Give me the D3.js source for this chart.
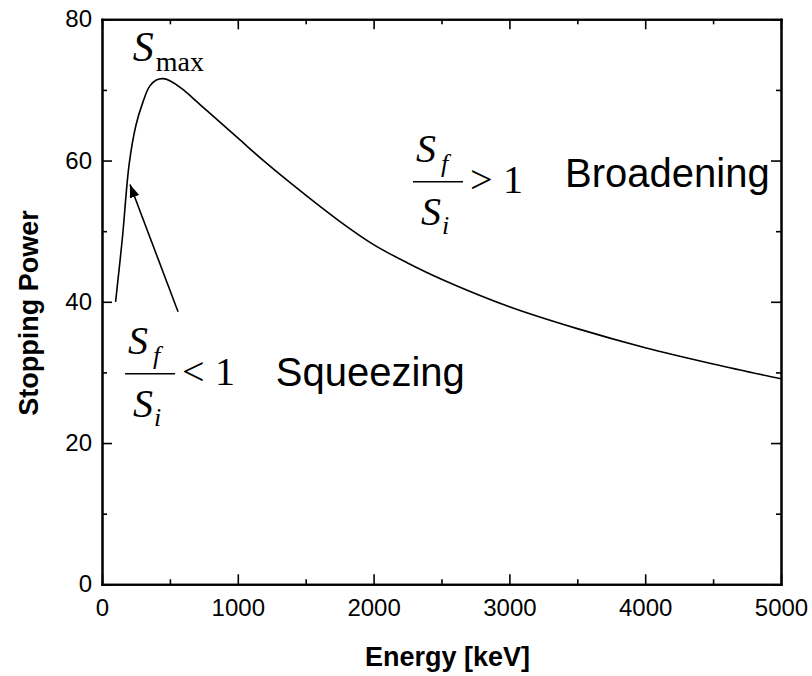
<!DOCTYPE html>
<html>
<head>
<meta charset="utf-8">
<script src="https://cdn.jsdelivr.net/npm/d3@7"></script>
<style>
  body { margin: 0; background: #fff; }
  svg { display: block; }
  .tick text { font-family: "Liberation Sans", Arial, sans-serif; font-size: 24px; fill: #000; }
  .title { font-family: "Liberation Sans", Arial, sans-serif; font-weight: bold; font-size: 27px; }
  .word { font-family: "Liberation Sans", Arial, sans-serif; font-size: 40px; }
  .math { font-family: "Liberation Serif", "Times New Roman", serif; }
</style>
</head>
<body>
<div id="chart"></div>
<script>
// stopping power curve
var energy   = [100, 150, 200, 250, 300, 350, 400, 450, 500, 600, 700, 800, 1000, 1200, 1500, 1750, 2000, 2250, 2500, 3000, 3500, 4000, 4500, 5000];
var stopping = [40, 49, 59.5, 65, 68.2, 70.5, 71.4, 71.6, 71.3, 70, 68.3, 66.6, 63.2, 59.8, 55.1, 51.4, 48.1, 45.5, 43.2, 39.3, 36.2, 33.5, 31.2, 29.1];

var xTicks = [0, 1000, 2000, 3000, 4000, 5000];
var yTicks = [0, 20, 40, 60, 80];

// arrow from "Sf/Si < 1" up to the rising edge (data units)
var arrowFrom = [560, 38.6];
var arrowTo = [206, 56.6];

var W = 812, H = 676;
var margin = { top: 19.3, right: 31, bottom: 91.7, left: 102 },
    width = W - margin.left - margin.right,
    height = H - margin.top - margin.bottom;

var svg = d3.select("#chart").append("svg")
    .attr("width", W)
    .attr("height", H);

var g = svg.append("g")
    .attr("transform", "translate(" + margin.left + "," + margin.top + ")");

var x = d3.scaleLinear().domain([0, 5000]).range([0, width]);
var y = d3.scaleLinear().domain([0, 80]).range([height, 0]);

var minorX = d3.range(500, 5000, 1000);
var minorY = d3.range(10, 80, 20);
var fmt = d3.format("d");

function styleAxis(sel) {
    sel.select(".domain").attr("stroke", "#000").attr("stroke-width", 2);
    sel.selectAll(".tick line").attr("stroke", "#000").attr("stroke-width", 1.6);
}

// bottom
g.append("g").attr("transform", "translate(0," + height + ")")
    .call(d3.axisBottom(x).tickValues(xTicks).tickFormat(fmt).tickSizeInner(-10).tickSizeOuter(0).tickPadding(15))
    .call(styleAxis);
g.append("g").attr("transform", "translate(0," + height + ")")
    .call(d3.axisBottom(x).tickValues(minorX).tickSizeInner(-5).tickSizeOuter(0).tickFormat(""))
    .call(styleAxis);
// top
g.append("g")
    .call(d3.axisTop(x).tickValues(xTicks).tickSizeInner(-10).tickSizeOuter(0).tickFormat(""))
    .call(styleAxis);
g.append("g")
    .call(d3.axisTop(x).tickValues(minorX).tickSizeInner(-5).tickSizeOuter(0).tickFormat(""))
    .call(styleAxis);
// left
g.append("g")
    .call(d3.axisLeft(y).tickValues(yTicks).tickFormat(fmt).tickSizeInner(-10).tickSizeOuter(0).tickPadding(10))
    .call(styleAxis);
g.append("g")
    .call(d3.axisLeft(y).tickValues(minorY).tickSizeInner(-5).tickSizeOuter(0).tickFormat(""))
    .call(styleAxis);
// right
g.append("g").attr("transform", "translate(" + width + ",0)")
    .call(d3.axisRight(y).tickValues(yTicks).tickSizeInner(-10).tickSizeOuter(0).tickFormat(""))
    .call(styleAxis);
g.append("g").attr("transform", "translate(" + width + ",0)")
    .call(d3.axisRight(y).tickValues(minorY).tickSizeInner(-5).tickSizeOuter(0).tickFormat(""))
    .call(styleAxis);

g.selectAll(".domain").attr("stroke-linecap", "square");

// axis titles
svg.append("text")
    .attr("class", "title")
    .attr("text-anchor", "middle")
    .attr("x", margin.left + width / 2 + 6)
    .attr("y", 666)
    .text("Energy [keV]");

svg.append("text")
    .attr("class", "title")
    .attr("text-anchor", "middle")
    .attr("transform", "translate(38," + 313 + ") rotate(-90)")
    .text("Stopping Power");

// the curve
var line = d3.line()
    .x(function(d, i) { return x(energy[i]); })
    .y(function(d) { return y(d); })
    .curve(d3.curveCatmullRom.alpha(0.5));

g.append("path")
    .datum(stopping)
    .attr("fill", "none")
    .attr("stroke", "#000")
    .attr("stroke-width", 1.6)
    .attr("d", line);

// arrow
svg.append("defs").append("marker")
    .attr("id", "head")
    .attr("viewBox", "0 0 13 10")
    .attr("refX", 13).attr("refY", 5)
    .attr("markerWidth", 13).attr("markerHeight", 10)
    .attr("markerUnits", "userSpaceOnUse")
    .attr("orient", "auto")
    .append("path").attr("d", "M0,0 L13,5 L0,10 Z").attr("fill", "#000");

g.append("line")
    .attr("x1", x(arrowFrom[0])).attr("y1", y(arrowFrom[1]))
    .attr("x2", x(arrowTo[0])).attr("y2", y(arrowTo[1]))
    .attr("stroke", "#000").attr("stroke-width", 1.6)
    .attr("marker-end", "url(#head)");

// S_max label
var smax = g.append("text").attr("class", "math")
    .attr("x", x(226)).attr("y", y(74.1));
smax.append("tspan").attr("font-style", "italic").attr("font-size", 42).text("S");
smax.append("tspan").attr("font-size", 28).attr("dx", 2).attr("dy", 10).text("max");

// fraction  S_f / S_i  (sign) 1
function fraction(e, s, sign) {
    var L = x(e), B = y(s);
    var f = g.append("g").attr("class", "math");
    f.append("line").attr("x1", L).attr("x2", L + 50).attr("y1", B).attr("y2", B)
        .attr("stroke", "#000").attr("stroke-width", 1.5);
    var top = f.append("text").attr("x", L + 3).attr("y", B - 20);
    top.append("tspan").attr("font-style", "italic").attr("font-size", 40).text("S");
    top.append("tspan").attr("font-style", "italic").attr("font-size", 26).attr("dx", 5).attr("dy", 10).text("f");
    var bot = f.append("text").attr("x", L + 8).attr("y", B + 43);
    bot.append("tspan").attr("font-style", "italic").attr("font-size", 40).text("S");
    bot.append("tspan").attr("font-style", "italic").attr("font-size", 26).attr("dx", 1).attr("dy", 9).text("i");
    f.append("text").attr("x", L + 57).attr("y", B + 11).attr("font-size", 40).text(sign);
    f.append("text").attr("x", L + 90).attr("y", B + 11).attr("font-size", 40).text("1");
}

fraction(170, 29.8, "<");
fraction(2290, 57.0, ">");

g.append("text").attr("class", "word")
    .attr("x", x(1280)).attr("y", y(28.1))
    .text("Squeezing");
g.append("text").attr("class", "word")
    .attr("x", x(3410)).attr("y", y(56.3))
    .text("Broadening");
</script>
</body>
</html>
